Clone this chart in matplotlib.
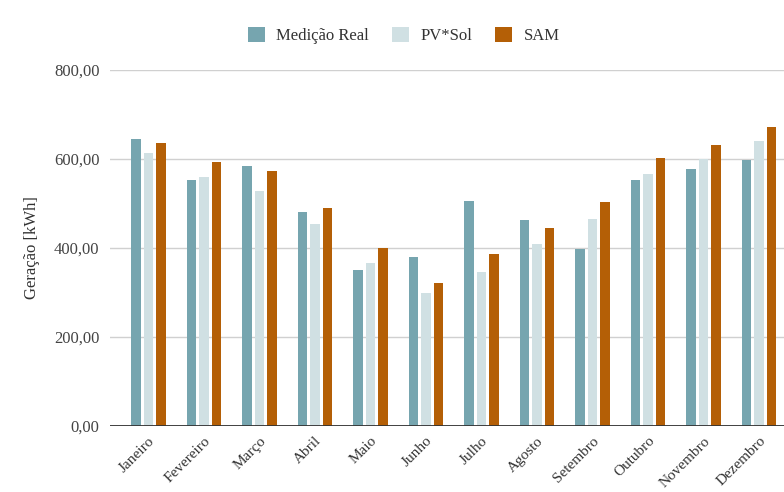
import numpy as np
import matplotlib.pyplot as plt
from matplotlib.patches import Patch

plt.rcParams['font.family'] = ['Liberation Serif', 'DejaVu Serif']

meses = ['Janeiro', 'Fevereiro', 'Março', 'Abril', 'Maio', 'Junho',
         'Julho', 'Agosto', 'Setembro', 'Outubro', 'Novembro', 'Dezembro']

# geracao mensal [kWh]
medicao_real = [646, 553, 585, 481, 351, 379, 506, 463, 398, 553, 578, 597]
pv_sol = [613, 559, 529, 453, 366, 300, 347, 409, 466, 566, 599, 640]
sam = [637, 594, 572, 491, 401, 322, 387, 444, 503, 603, 631, 671]

series = [('Medição Real', medicao_real, '#76a5af'),
          ('PV*Sol', pv_sol, '#d0e0e3'),
          ('SAM', sam, '#b45f06')]

fig = plt.figure(figsize=(7.84, 4.92), dpi=100)
ax = fig.add_axes([0.1403, 0.1341, 0.8597, 0.7236])

x = np.arange(len(meses))
largura = 0.17
passo = 0.225
for i, (nome, valores, cor) in enumerate(series):
    ax.bar(x + (i - 1) * passo, valores, width=largura, color=cor,
           label=nome, zorder=3)

ax.set_xlim(-0.69, 11.45)
ax.set_ylim(0, 800)
ax.set_yticks([0, 200, 400, 600, 800])
ax.set_yticklabels(['0,00', '200,00', '400,00', '600,00', '800,00'])
ax.grid(axis='y', color='#d0d0d0', linewidth=1, zorder=0)
ax.axhline(0, color='#333333', linewidth=1.3, zorder=4)
for s in ax.spines.values():
    s.set_visible(False)
ax.tick_params(axis='both', length=0, colors='#444444')
ax.tick_params(axis='y', pad=7.5, labelsize=12)

ax.set_xticks(x)
ax.set_xticklabels(meses, rotation=45, ha='right', rotation_mode='anchor')
ax.tick_params(axis='x', pad=6, labelsize=11, labelcolor='#333333')

ax.set_ylabel('Geração [kWh]', fontsize=12, color='#333333', labelpad=10)

handles = [Patch(facecolor=c, edgecolor='none', label=n) for n, _, c in series]
fig.legend(handles=handles, loc='upper center', bbox_to_anchor=(0.515, 0.975),
           ncol=3, frameon=False, fontsize=12, handlelength=1.0,
           handleheight=1.0, columnspacing=1.4, handletextpad=0.68,
           labelcolor='#333333')

fig.savefig('out.png', dpi=100)
